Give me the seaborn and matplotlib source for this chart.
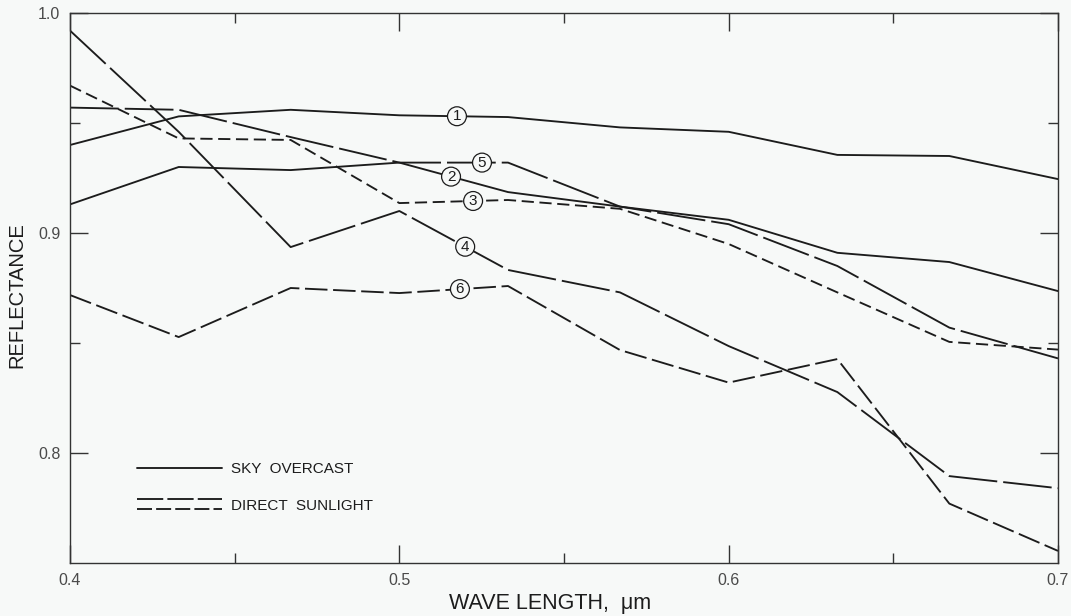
import numpy as np
import pandas as pd
import matplotlib
matplotlib.use("Agg")
import matplotlib.pyplot as plt
from matplotlib.lines import Line2D
from matplotlib.legend_handler import HandlerBase
import seaborn as sns

# Wavelength samples (micrometres)
wavelength = [0.400, 0.433, 0.467, 0.500, 0.533, 0.567, 0.600, 0.633, 0.667, 0.700]

# Reflectance curves, numbered as in the figure
curve_1 = [0.940, 0.953, 0.956, 0.9535, 0.9527, 0.948, 0.946, 0.9355, 0.935, 0.9245]
curve_2 = [0.913, 0.930, 0.9286, 0.932, 0.9186, 0.912, 0.906, 0.891, 0.8868, 0.8736]
curve_3 = [0.967, 0.943, 0.9423, 0.9136, 0.915, 0.911, 0.895, 0.873, 0.8505, 0.847]
curve_4 = [0.992, 0.946, 0.8936, 0.910, 0.8832, 0.873, 0.8486, 0.8277, 0.7895, 0.784]
curve_5 = [0.957, 0.956, 0.9436, 0.932, 0.932, 0.912, 0.904, 0.885, 0.857, 0.843]
curve_6 = [0.8718, 0.8527, 0.875, 0.8727, 0.8759, 0.8468, 0.832, 0.8427, 0.777, 0.7555]

curve_names = ["1", "2", "3", "4", "5", "6"]
curve_values = [curve_1, curve_2, curve_3, curve_4, curve_5, curve_6]
# where each circled number sits along its curve (wavelength)
label_x = [0.5175, 0.5157, 0.5224, 0.5200, 0.5251, 0.5184]

legend_labels = ["SKY  OVERCAST", "DIRECT  SUNLIGHT"]

BG = "#f7f9f8"
INK = "#1c1c1c"
LW = 1.35

SOLID = "-"
LONG_DASH = (0, (26, 3.2))
MED_DASH = (0, (12, 3.0))
SHORT_DASH = (0, (6.5, 3.0))
styles = [SOLID, SOLID, SHORT_DASH, LONG_DASH, LONG_DASH, MED_DASH]

sns.set_theme(style="ticks")
plt.rcParams["font.family"] = ["Liberation Sans", "DejaVu Sans"]

fig = plt.figure(figsize=(10.71, 6.16), dpi=100, facecolor=BG)
ax = fig.add_axes([70 / 1071, 53 / 616, 988 / 1071, 550 / 616], facecolor=BG)

frames = []
for name, vals in zip(curve_names, curve_values):
    frames.append(pd.DataFrame({"wavelength": wavelength, "reflectance": vals, "curve": name}))
df = pd.concat(frames, ignore_index=True)

for name, style in zip(curve_names, styles):
    sub = df[df["curve"] == name]
    sns.lineplot(data=sub, x="wavelength", y="reflectance", ax=ax, color=INK,
                 lw=LW, linestyle=style, legend=False, estimator=None)

# circled curve numbers sitting on the lines
for name, vals, lx in zip(curve_names, curve_values, label_x):
    ly = np.interp(lx, wavelength, vals)
    ax.text(lx, ly, name, ha="center", va="center", fontsize=11, color=INK,
            zorder=5,
            bbox=dict(boxstyle="circle,pad=0.16", fc=BG, ec=INK, lw=0.9))

ax.set_xlim(0.4, 0.7)
ax.set_ylim(0.75, 1.0)
ax.set_xticks([0.4, 0.5, 0.6, 0.7])
ax.set_xticklabels(["0.4", "0.5", "0.6", "0.7"])
ax.set_xticks([0.45, 0.55, 0.65], minor=True)
ax.set_yticks([0.8, 0.9, 1.0])
ax.set_yticklabels(["0.8", "0.9", "1.0"])
ax.set_yticks([0.85, 0.95], minor=True)
ax.tick_params(which="both", direction="in", top=True, right=True,
               color="#333333", width=1.0, labelcolor="#4a4a4a", labelsize=11.5)
ax.tick_params(which="major", length=13, pad=7)
ax.tick_params(which="minor", length=7)
for sp in ax.spines.values():
    sp.set_color("#333333")
    sp.set_linewidth(1.0)
    sp.set_visible(True)

ax.set_xlabel("WAVE LENGTH,  \u03bcm", fontsize=15.5, color=INK)
ax.xaxis.set_label_coords(0.486, -0.054)
ax.set_ylabel("REFLECTANCE", fontsize=14.5, color=INK)
ax.yaxis.set_label_coords(-0.044, 0.487)


class StackedHandler(HandlerBase):
    """Draw a pair of line samples one above the other."""
    def create_artists(self, legend, orig_handle, xdescent, ydescent,
                       width, height, fontsize, trans):
        artists = []
        offsets = [0.5 * height + 0.33 * fontsize, 0.5 * height - 0.33 * fontsize]
        for h, yy in zip(orig_handle, offsets):
            ln = Line2D([-xdescent, -xdescent + width], [yy - ydescent, yy - ydescent],
                        color=h.get_color(), lw=h.get_linewidth())
            ln.set_linestyle(h.sample_style)
            ln.set_transform(trans)
            artists.append(ln)
        return artists


solid_h = Line2D([], [], color=INK, lw=LW, linestyle=SOLID)
long_h = Line2D([], [], color=INK, lw=LW)
long_h.sample_style = (0, (14, 2.2))
short_h = Line2D([], [], color=INK, lw=LW)
short_h.sample_style = (0, (8, 2.2))

leg = ax.legend([solid_h, (long_h, short_h)], legend_labels,
                handler_map={tuple: StackedHandler()},
                loc="upper left", bbox_to_anchor=(0.062, 0.194),
                frameon=False, fontsize=11, handlelength=5.55,
                handletextpad=0.55, labelspacing=1.45, borderaxespad=0)
for t in leg.get_texts():
    t.set_color(INK)

fig.savefig("out.png", dpi=100, facecolor=BG)
